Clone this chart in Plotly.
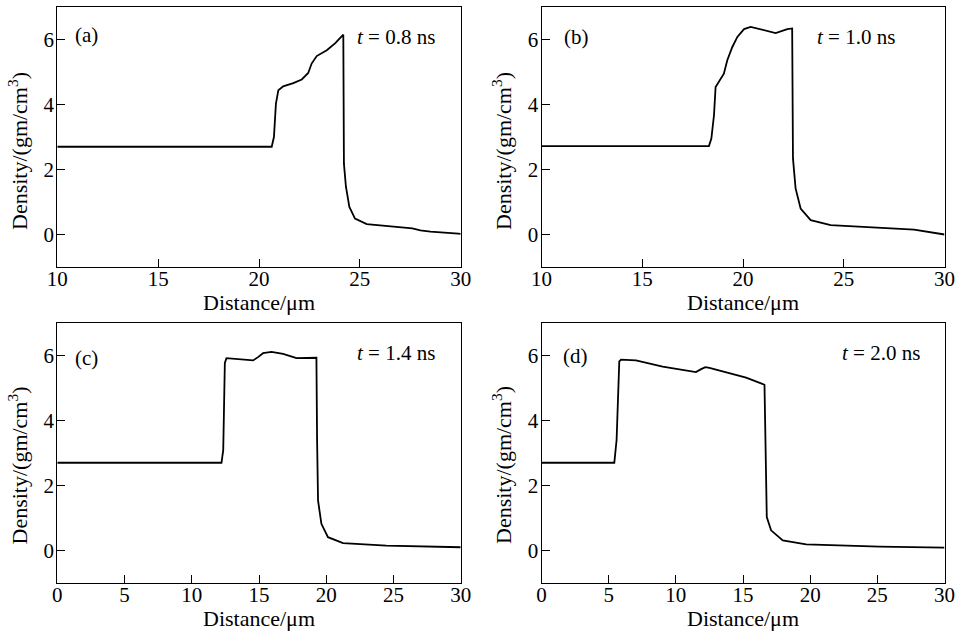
import plotly.graph_objects as go

# ---------------- data ----------------
xa = [10, 20.63, 20.74, 20.84, 20.96, 21.2, 21.7, 22.12, 22.44, 22.61, 22.86, 23.36, 23.77, 24.15, 24.18,
      24.21, 24.31, 24.48, 24.76, 25.34, 26.66, 27.6, 28.0, 28.5, 29.88, 30]
ya = [2.7, 2.7, 3.0, 4.03, 4.44, 4.56, 4.66, 4.77, 4.97, 5.26, 5.49, 5.67, 5.88, 6.13, 6.15,
      2.18, 1.47, 0.85, 0.49, 0.32, 0.24, 0.19, 0.13, 0.09, 0.03, 0.02]

xb = [10, 18.31, 18.43, 18.56, 18.64, 18.80, 19.05, 19.22, 19.47, 19.72, 20.05, 20.38, 20.87, 21.3, 21.62,
      22.2, 22.44, 22.48, 22.61, 22.86, 23.36, 24.35, 26.5, 28.49, 30]
yb = [2.72, 2.72, 2.95, 3.67, 4.54, 4.70, 4.95, 5.36, 5.77, 6.08, 6.32, 6.39, 6.32, 6.24, 6.20,
      6.32, 6.34, 2.34, 1.42, 0.80, 0.44, 0.29, 0.22, 0.15, 0.0]

xc = [0, 12.21, 12.34, 12.46, 12.58, 13.57, 14.56, 14.93, 15.30, 15.93, 16.79, 17.79, 18.53, 19.27,
      19.32, 19.39, 19.64, 20.13, 21.25, 24.47, 30]
yc = [2.7, 2.7, 3.09, 5.77, 5.92, 5.89, 5.85, 5.95, 6.07, 6.11, 6.05, 5.92, 5.92, 5.93,
      3.40, 1.54, 0.82, 0.41, 0.23, 0.15, 0.10]

xd = [0, 5.42, 5.59, 5.79, 5.92, 7.03, 9.02, 10.26, 11.50, 11.88, 12.20, 12.50, 13.99, 15.23, 16.60,
      16.67, 16.77, 17.09, 17.96, 19.70, 25.16, 30]
yd = [2.7, 2.7, 3.40, 5.82, 5.87, 5.85, 5.66, 5.58, 5.49, 5.58, 5.64, 5.62, 5.46, 5.32, 5.10,
      3.40, 1.03, 0.62, 0.31, 0.19, 0.12, 0.09]

panel_labels = ["(a)", "(b)", "(c)", "(d)"]
time_labels = ["0.8", "1.0", "1.4", "2.0"]
x_title = "Distance/μm"
y_title = "Density/(gm/cm<sup>3</sup>)"

FONT = "Liberation Serif"
fig = go.Figure()

series = [(xa, ya), (xb, yb), (xc, yc), (xd, yd)]
axes = ["", "2", "3", "4"]
for (xs, ys), ax in zip(series, axes):
    fig.add_trace(go.Scatter(x=xs, y=ys, mode="lines", line=dict(color="black", width=1.8),
                             xaxis="x" + ax, yaxis="y" + ax, showlegend=False))

W, H = 957, 633
xdom_l = [57.3 / W, 460.7 / W]
xdom_r = [541.5 / W, 944.5 / W]
ydom_t = [1 - 267 / H, 1 - 7 / H]
ydom_b = [1 - 583 / H, 1 - 323 / H]

common_x = dict(showgrid=False, zeroline=False, showline=True, linecolor="black", linewidth=1.3,
                mirror=True, ticks="inside", ticklen=8, tickwidth=1.2, tickcolor="black",
                automargin=False, ticklabelstandoff=-7,
                tickfont=dict(family=FONT, size=21, color="black"))
common_y = dict(showgrid=False, zeroline=False, showline=True, linecolor="black", linewidth=1.3,
                mirror=True, ticks="inside", ticklen=8, tickwidth=1.2, tickcolor="black",
                automargin=False, ticklabelstandoff=-2,
                tickfont=dict(family=FONT, size=21, color="black"),
                range=[-1, 7], tickvals=[0, 2, 4, 6])

fig.update_layout(
    width=W, height=H, margin=dict(l=0, r=0, t=0, b=0, pad=0),
    paper_bgcolor="white", plot_bgcolor="white",
    xaxis=dict(domain=xdom_l, anchor="y", range=[10, 30], tickvals=[10, 15, 20, 25, 30], **common_x),
    yaxis=dict(domain=ydom_t, anchor="x", **common_y),
    xaxis2=dict(domain=xdom_r, anchor="y2", range=[10, 30], tickvals=[10, 15, 20, 25, 30], **common_x),
    yaxis2=dict(domain=ydom_t, anchor="x2", **common_y),
    xaxis3=dict(domain=xdom_l, anchor="y3", range=[0, 30], tickvals=[0, 5, 10, 15, 20, 25, 30], **common_x),
    yaxis3=dict(domain=ydom_b, anchor="x3", **common_y),
    xaxis4=dict(domain=xdom_r, anchor="y4", range=[0, 30], tickvals=[0, 5, 10, 15, 20, 25, 30], **common_x),
    yaxis4=dict(domain=ydom_b, anchor="x4", **common_y),
)

# panel letters and time labels
label_pos = [(10.78, 6.13), (11.03, 6.08), (1.19, 5.92), (1.45, 5.97)]
time_pos = [(28.83, 6.08), (27.63, 6.08), (28.23, 6.07), (28.35, 6.07)]
for i, ax in enumerate(axes):
    xr, yr = "x" + ax, "y" + ax
    fig.add_annotation(x=label_pos[i][0], y=label_pos[i][1], xref=xr, yref=yr, text=panel_labels[i],
                       showarrow=False, xanchor="left", yanchor="middle",
                       font=dict(family=FONT, size=21, color="black"))
    fig.add_annotation(x=time_pos[i][0], y=time_pos[i][1], xref=xr, yref=yr,
                       text="<i>t</i> = " + time_labels[i] + " ns",
                       showarrow=False, xanchor="right", yanchor="middle",
                       font=dict(family=FONT, size=21, color="black"))

# x-axis titles (centred under each panel)
xtitle_pos = [((xdom_l[0] + xdom_l[1]) / 2, 1 - 302 / H), ((xdom_r[0] + xdom_r[1]) / 2, 1 - 302 / H),
              ((xdom_l[0] + xdom_l[1]) / 2, 1 - 618 / H), ((xdom_r[0] + xdom_r[1]) / 2, 1 - 618 / H)]
for (px, py) in xtitle_pos:
    fig.add_annotation(x=px, y=py, xref="paper", yref="paper", text=x_title,
                       showarrow=False, xanchor="center", yanchor="middle",
                       font=dict(family=FONT, size=22, color="black"))

# y-axis titles
ytitle_pos = [(18 / W, 1 - 151 / H), (502 / W, 1 - 151 / H),
              (18 / W, 1 - 465.5 / H), (502.5 / W, 1 - 465.5 / H)]
for (px, py) in ytitle_pos:
    fig.add_annotation(x=px, y=py, xref="paper", yref="paper", text=y_title, textangle=-90,
                       showarrow=False, xanchor="center", yanchor="middle",
                       font=dict(family=FONT, size=22, color="black"))

# remove the default page margin so the figure sits at the window's top-left corner
fig.write_html("out.html", config={"displayModeBar": False},
               post_script="document.body.style.margin='0';")
